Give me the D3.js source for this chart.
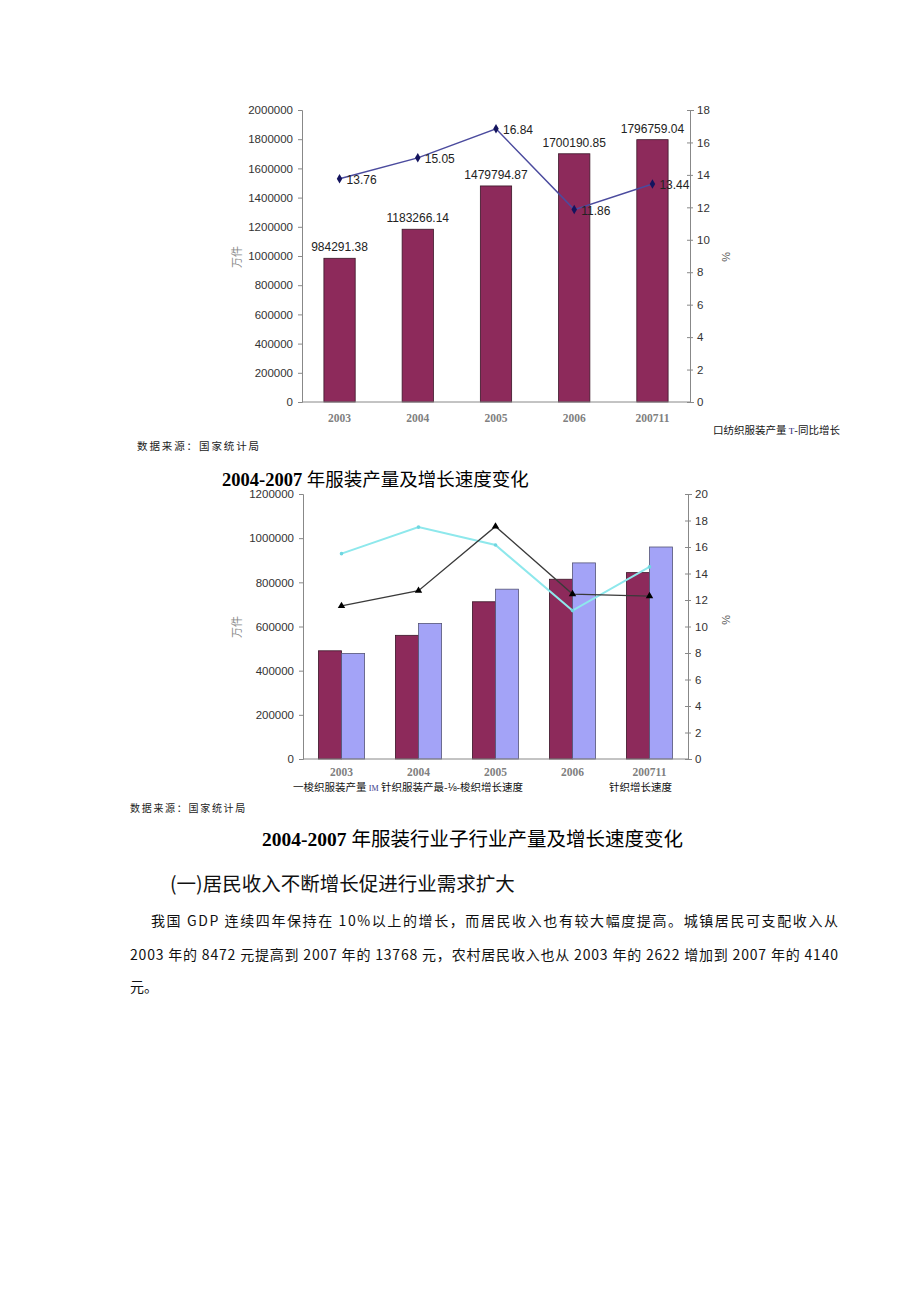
<!DOCTYPE html>
<html><head><meta charset="utf-8">
<script src="https://cdn.jsdelivr.net/npm/d3@7/dist/d3.min.js"></script>
<style>body{margin:0;background:#fff}svg{display:block}</style>
</head><body><div id="c"></div>
<script>
// ---- data ----
const categories = ["2003","2004","2005","2006","200711"];
const totalOutput = [984291.38,1183266.14,1479794.87,1700190.85,1796759.04];
const totalGrowth = [13.76,15.05,16.84,11.86,13.44];
const leftTicks1 = [0,200000,400000,600000,800000,1000000,1200000,1400000,1600000,1800000,2000000];
const rightTicks1 = [0,2,4,6,8,10,12,14,16,18];

const wovenOutput = [490000,560000,712000,814000,844000];
const knitOutput = [478000,614000,769000,888000,960000];
const wovenGrowth = [11.55,12.7,17.55,12.45,12.3];
const knitGrowth = [15.5,17.5,16.15,11.2,14.5];
const leftTicks2 = [0,200000,400000,600000,800000,1000000,1200000];
const rightTicks2 = [0,2,4,6,8,10,12,14,16,18,20];

const W=920,H=1301;
const svg=d3.select("#c").append("svg").attr("width",W).attr("height",H);
svg.append("rect").attr("width",W).attr("height",H).attr("fill","#fff");

const SANS="'Liberation Sans', Arial, sans-serif";
const SERIF="'Liberation Serif', 'Times New Roman', serif";
const CJK="'Noto Sans CJK SC', sans-serif";
const MAROON="#8d2a5b", LAV="#a3a3f7";

function axes(g, x, yL, yR, lt, rt, x0, x1, yT, yB, pad){
  const la=g.append("g").attr("transform",`translate(${x0},0)`)
    .call(d3.axisLeft(yL).tickValues(lt).tickSize(4).tickFormat(d3.format("d")));
  const ra=g.append("g").attr("transform",`translate(${x1},0)`)
    .call(d3.axisRight(yR).tickValues(rt).tickSize(4).tickFormat(d3.format("d")));
  [la,ra].forEach(a=>{
    a.select(".domain").attr("stroke","#888");
    a.selectAll(".tick line").attr("stroke","#888");
    a.selectAll("text").attr("font-family",SANS).attr("font-size",11.5).attr("fill","#333");
  });
  la.selectAll("text").attr("x",-9);
  ra.selectAll("text").attr("x",7);
  ra.selectAll(".tick line").attr("x1",-3).attr("x2",3);
  g.append("line").attr("x1",x0).attr("x2",x1).attr("y1",yB).attr("y2",yB).attr("stroke","#888");
  const xa=g.append("g").attr("transform",`translate(0,${yB})`)
    .call(d3.axisBottom(x).tickSize(0).tickPadding(pad));
  xa.select(".domain").remove();
  xa.selectAll("text").attr("font-family",SERIF).attr("font-weight","bold")
    .attr("font-size",11.5).attr("fill","#808080");
}

// ---------------- chart 1 ----------------
{
  const x0=302,x1=690,yT=110,yB=402;
  const g=svg.append("g");
  const x=d3.scaleBand().domain(categories).range([x0,x1]).padding(0.6).paddingOuter(0.28);
  const yL=d3.scaleLinear().domain([0,2000000]).range([yB,yT]);
  const yR=d3.scaleLinear().domain([0,18]).range([yB,yT]);
  g.selectAll("rect.b").data(categories).join("rect")
    .attr("x",d=>x(d)).attr("width",x.bandwidth())
    .attr("y",(d,i)=>yL(totalOutput[i])).attr("height",(d,i)=>yB-yL(totalOutput[i]))
    .attr("fill",MAROON).attr("stroke","#3b1628").attr("stroke-width",0.8);
  axes(g,x,yL,yR,leftTicks1,rightTicks1,x0,x1,yT,yB,12);
  g.selectAll("text.bl").data(categories).join("text")
    .attr("x",d=>x(d)+x.bandwidth()/2).attr("y",(d,i)=>yL(totalOutput[i])-7)
    .attr("text-anchor","middle").attr("font-family",SANS).attr("font-size",12).attr("fill","#222")
    .text((d,i)=>d3.format(".2f")(totalOutput[i]));
  const cx=d=>x(d)+x.bandwidth()/2;
  const line=d3.line().x((d,i)=>cx(categories[i])).y(d=>yR(d));
  g.append("path").datum(totalGrowth).attr("d",line).attr("fill","none")
    .attr("stroke","#4b4b9e").attr("stroke-width",1.5);
  g.selectAll("path.m").data(totalGrowth).join("path")
    .attr("d",d3.symbol(d3.symbolDiamond,26))
    .attr("transform",(d,i)=>`translate(${cx(categories[i])},${yR(d)})`).attr("fill","#14145e");
  g.selectAll("text.ll").data(totalGrowth).join("text")
    .attr("x",(d,i)=>cx(categories[i])+7).attr("y",d=>yR(d)+5)
    .attr("font-family",SANS).attr("font-size",12).attr("fill","#222")
    .text(d=>d3.format(".2f")(d));
  g.append("text").attr("transform",`translate(241,257) rotate(-90)`).attr("text-anchor","middle")
    .attr("font-family",CJK).attr("font-size",11).attr("fill","#888").text("万件");
  g.append("text").attr("transform",`translate(722,257) rotate(90)`).attr("text-anchor","middle")
    .attr("font-family",SANS).attr("font-size",11).attr("fill","#555").text("%");
  const lg=g.append("text").attr("x",713).attr("y",434).attr("font-family",CJK).attr("font-size",10.5).attr("fill","#111");
  lg.append("tspan").text("口纺织服装产量 ");
  lg.append("tspan").attr("fill","#23237a").attr("font-family",SERIF).attr("font-size",9).text("T");
  lg.append("tspan").text("-同比增长");
}

svg.append("text").attr("x",137).attr("y",450).attr("font-family",CJK).attr("font-size",10.5)
  .attr("letter-spacing",1.9).attr("fill","#222").text("数据来源：国家统计局");
{
  const t=svg.append("text").attr("x",222).attr("y",486).attr("font-size",18.5).attr("fill","#000");
  t.append("tspan").attr("font-family",SERIF).attr("font-weight","bold").text("2004-2007 ");
  t.append("tspan").attr("font-family",CJK).text("年服装产量及增长速度变化");
}

// ---------------- chart 2 ----------------
{
  const x0=303,x1=688,yT=494,yB=759;
  const g=svg.append("g");
  const x=d3.scaleBand().domain(categories).range([x0,x1]).padding(0.4).paddingOuter(0.2);
  const series=["woven","knit"];
  const xs=d3.scaleBand().domain(series).range([0,x.bandwidth()]);
  const yL=d3.scaleLinear().domain([0,1200000]).range([yB,yT]);
  const yR=d3.scaleLinear().domain([0,20]).range([yB,yT]);
  const vals={woven:wovenOutput,knit:knitOutput};
  const col={woven:MAROON,knit:LAV};
  series.forEach(s=>{
    g.selectAll("rect."+s).data(categories).join("rect")
      .attr("x",d=>x(d)+xs(s)).attr("width",xs.bandwidth())
      .attr("y",(d,i)=>yL(vals[s][i])).attr("height",(d,i)=>yB-yL(vals[s][i]))
      .attr("fill",col[s]).attr("stroke",s==="woven"?"#3b1628":"#555577").attr("stroke-width",0.8);
  });
  axes(g,x,yL,yR,leftTicks2,rightTicks2,x0,x1,yT,yB,9);
  const cx=d=>x(d)+x.bandwidth()/2;
  const line=d3.line().x((d,i)=>cx(categories[i])).y(d=>yR(d));
  g.append("path").datum(knitGrowth).attr("d",line).attr("fill","none")
    .attr("stroke","#8ee8ec").attr("stroke-width",2);
  g.selectAll("circle.k").data(knitGrowth).join("circle")
    .attr("cx",(d,i)=>cx(categories[i])).attr("cy",d=>yR(d)).attr("r",1.8).attr("fill","#6fd6e0");
  g.append("path").datum(wovenGrowth).attr("d",line).attr("fill","none")
    .attr("stroke","#3a3a3a").attr("stroke-width",1.3);
  g.selectAll("path.t").data(wovenGrowth).join("path")
    .attr("d",d3.symbol(d3.symbolTriangle,24))
    .attr("transform",(d,i)=>`translate(${cx(categories[i])},${yR(d)})`).attr("fill","#000");
  g.append("text").attr("transform",`translate(241,627) rotate(-90)`).attr("text-anchor","middle")
    .attr("font-family",CJK).attr("font-size",11).attr("fill","#888").text("万件");
  g.append("text").attr("transform",`translate(722,620) rotate(90)`).attr("text-anchor","middle")
    .attr("font-family",SANS).attr("font-size",11).attr("fill","#555").text("%");
  const lg=g.append("text").attr("x",293).attr("y",791).attr("font-family",CJK).attr("font-size",10.5).attr("fill","#111");
  lg.append("tspan").text("一梭织服装产量 ");
  lg.append("tspan").attr("fill","#3a3a8a").attr("font-family",SERIF).attr("font-size",8).text("IM");
  lg.append("tspan").text(" 针织服装产最-⅛-梭织增长速度");
  g.append("text").attr("x",609).attr("y",791).attr("font-family",CJK).attr("font-size",10.5).attr("fill","#111")
    .text("针织增长速度");
}

svg.append("text").attr("x",130).attr("y",812).attr("font-family",CJK).attr("font-size",10)
  .attr("letter-spacing",1.7).attr("fill","#222").text("数据来源：国家统计局");
{
  const t=svg.append("text").attr("x",262).attr("y",846).attr("font-size",19.5).attr("fill","#000");
  t.append("tspan").attr("font-family",SERIF).attr("font-weight","bold").text("2004-2007 ");
  t.append("tspan").attr("font-family",CJK).text("年服装行业子行业产量及增长速度变化");
}

// ---------------- body text ----------------
svg.append("text").attr("x",170).attr("y",891).attr("font-family",CJK).attr("font-size",19.5).attr("fill","#111")
  .text("(一)居民收入不断增长促进行业需求扩大");
svg.append("text").attr("x",151).attr("y",926).attr("font-family",CJK).attr("font-size",14).attr("fill","#111")
  .attr("textLength",687).attr("lengthAdjust","spacing")
  .text("我国 GDP 连续四年保持在 10%以上的增长，而居民收入也有较大幅度提高。城镇居民可支配收入从");
svg.append("text").attr("x",130).attr("y",960).attr("font-family",CJK).attr("font-size",14).attr("fill","#111")
  .attr("textLength",708).attr("lengthAdjust","spacing")
  .text("2003 年的 8472 元提高到 2007 年的 13768 元，农村居民收入也从 2003 年的 2622 增加到 2007 年的 4140");
svg.append("text").attr("x",130).attr("y",992).attr("font-family",CJK).attr("font-size",14).attr("fill","#111")
  .text("元。");
</script></body></html>
